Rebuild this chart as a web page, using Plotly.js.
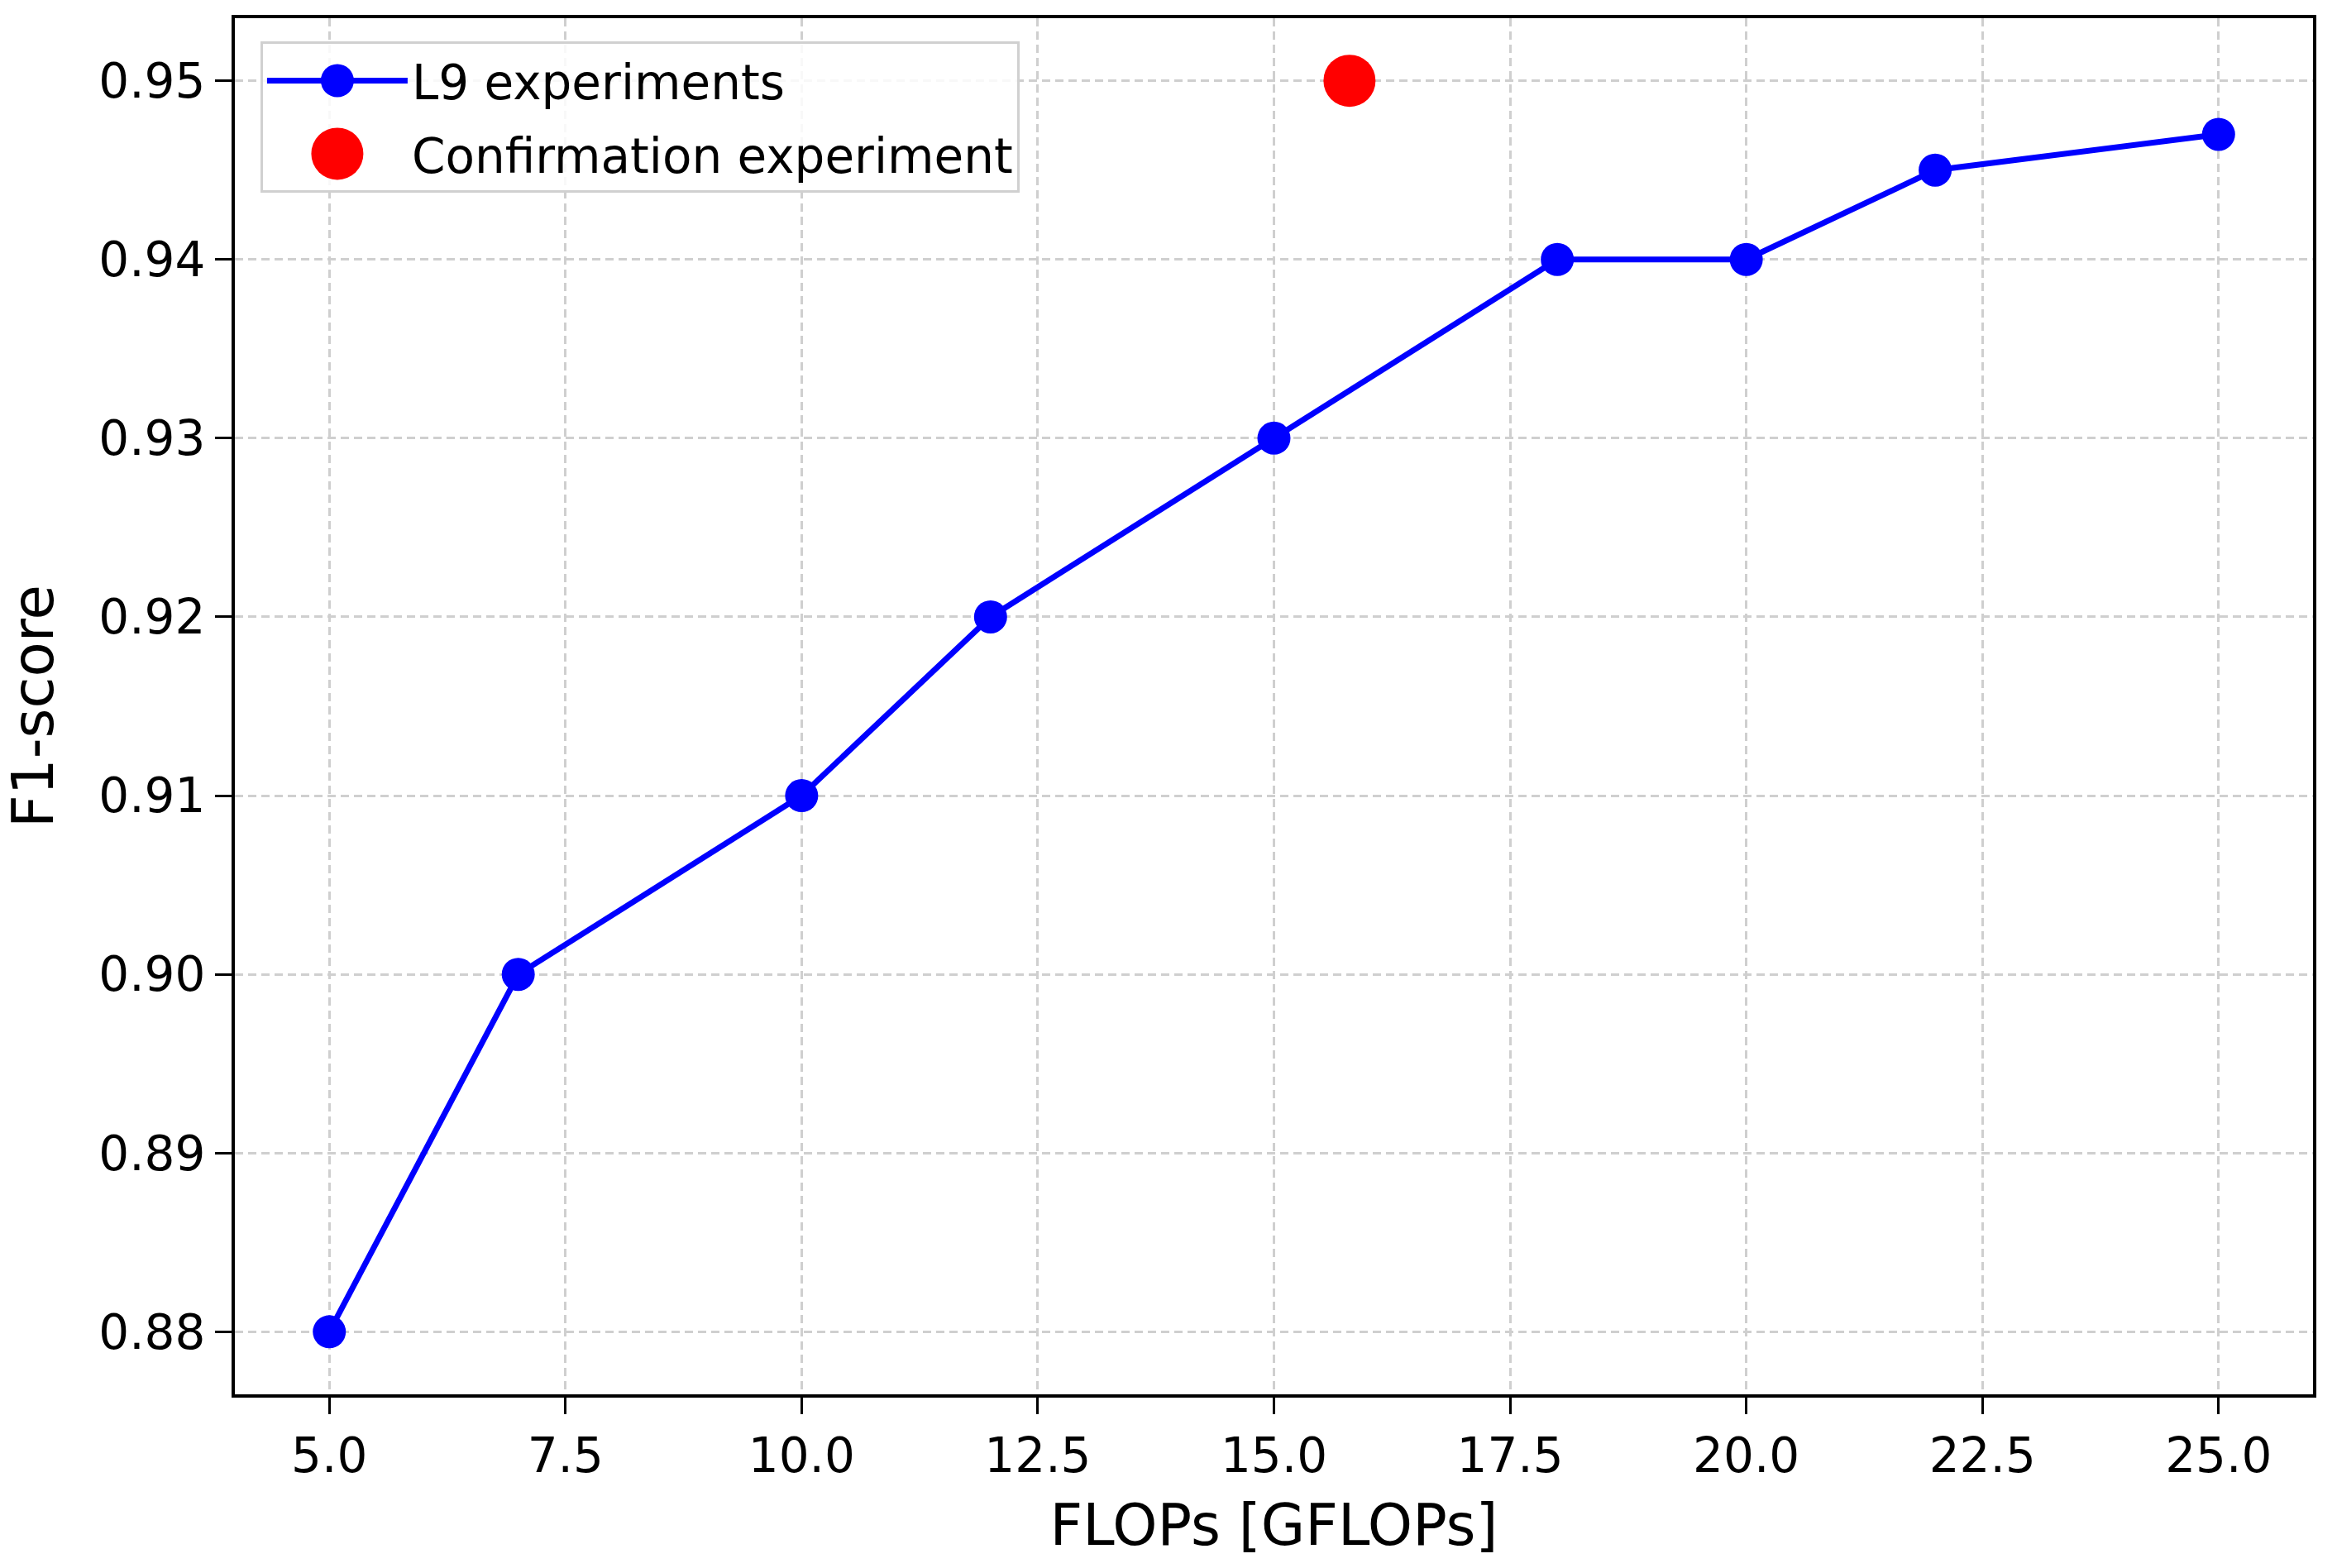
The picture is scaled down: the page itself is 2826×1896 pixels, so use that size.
<!DOCTYPE html>
<html>
<head>
<meta charset="utf-8">
<script src="https://cdn.plot.ly/plotly-3.0.1.min.js"></script>
<style>html,body{margin:0;padding:0;background:#fff;}#chart{width:2826px;height:1896px;}</style>
</head>
<body>
<div id="chart"></div>
<script>
const flops = [5, 7, 10, 12, 15, 18, 20, 22, 25];
const f1Scores = [0.88, 0.90, 0.91, 0.92, 0.93, 0.94, 0.94, 0.945, 0.947];
const confirmFlops = [15.8];
const confirmF1 = [0.95];
const seriesNames = ['L9 experiments', 'Confirmation experiment'];
const xTitle = 'FLOPs [GFLOPs]';
const yTitle = 'F1-score';

const font = 'DejaVu Sans, Verdana, sans-serif';
const markerSizes = [40, 63];

const traces = [
  {
    x: flops, y: f1Scores, name: seriesNames[0], type: 'scatter', mode: 'lines+markers',
    line: {color: '#0000ff', width: 7}, marker: {color: '#0000ff', size: markerSizes[0]},
    legendgroup: 'a'
  },
  {
    x: confirmFlops, y: confirmF1, name: seriesNames[1], type: 'scatter', mode: 'markers',
    marker: {color: '#ff0000', size: markerSizes[1]},
    legendgroup: 'b'
  }
];

const axisCommon = {
  showline: true, linecolor: '#000', linewidth: 4, mirror: true,
  ticks: 'outside', ticklen: 20, tickwidth: 3, tickcolor: '#000',
  showgrid: true, gridcolor: '#cfcfcf', gridwidth: 3, griddash: '10px,6px',
  zeroline: false, tickfont: {family: font, size: 58, color: '#000'}
};

const layout = {
  width: 2826, height: 1896,
  paper_bgcolor: '#fff', plot_bgcolor: '#fff',
  margin: {l: 284, r: 29, t: 22, b: 210},
  font: {family: font, color: '#000'},
  showlegend: true,
  legend: {
    x: 0.0123, y: 0.983, xanchor: 'left', yanchor: 'top',
    bgcolor: 'rgba(255,255,255,0.85)', bordercolor: '#d0d0d0', borderwidth: 3,
    font: {family: font, size: 58, color: '#000'},
    tracegroupgap: 10, traceorder: 'grouped', itemsizing: 'trace', itemwidth: 170
  },
  xaxis: Object.assign({}, axisCommon, {
    range: [4, 26], tick0: 5, dtick: 2.5, tickformat: '.1f',
    title: {text: xTitle, font: {family: font, size: 69, color: '#000'}, standoff: 28},
    automargin: false
  }),
  yaxis: Object.assign({}, axisCommon, {
    range: [0.8765, 0.9535], tick0: 0.88, dtick: 0.01, tickformat: '.2f',
    title: {text: yTitle, font: {family: font, size: 69, color: '#000'}, standoff: 40},
    automargin: false
  })
};

Plotly.newPlot('chart', traces, layout, {displayModeBar: false, staticPlot: true}).then(function (gd) {
  // enlarge legend marker symbols to match the plotted marker sizes
  const items = gd.querySelectorAll('.legend .traces');
  items.forEach(function (item, i) {
    const target = markerSizes[i];
    item.querySelectorAll('.legendpoints path.scatterpts').forEach(function (p) {
      const bb = p.getBBox();
      if (bb.width > 0) {
        const s = target / bb.width;
        p.setAttribute('transform', (p.getAttribute('transform') || '') + ' scale(' + s + ')');
      }
    });
  });
});
</script>
</body>
</html>
